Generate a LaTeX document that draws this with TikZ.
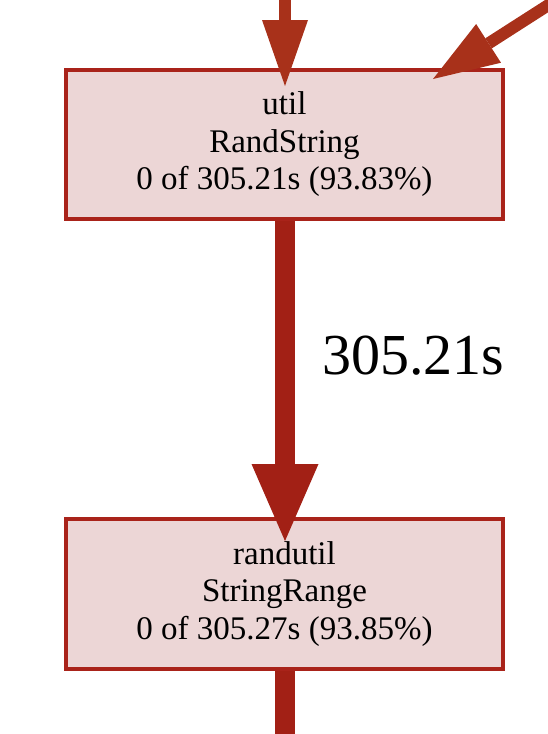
\documentclass[tikz,border=0pt]{standalone}
\usepackage{fontspec}
\setmainfont{Liberation Serif}
\usetikzlibrary{arrows.meta,calc}
\definecolor{boxfill}{HTML}{ECD6D6}
\definecolor{boxline}{HTML}{A9231A}
\definecolor{edgeA}{HTML}{A8311A}
\definecolor{edgeB}{HTML}{A22015}
\begin{document}
\begin{tikzpicture}[x=1pt,y=-1pt,
  fnbox/.style={draw=boxline,fill=boxfill,line width=4pt,rectangle,
    minimum width=437pt,minimum height=149pt,inner sep=0pt,align=center,
    font=\fontsize{33}{37.5}\selectfont},
  thinedge/.style={draw=edgeA,line width=12pt,
    -{Triangle[length=66pt,width=46pt,line width=0pt]}},
  thickedge/.style={draw=edgeB,line width=20pt},
  thickhead/.style={-{Triangle[length=77pt,width=67pt,line width=0pt]}},
  edgelabel/.style={font=\fontsize{58}{60}\selectfont,inner sep=0pt,anchor=base west}]
\useasboundingbox (0,0) rectangle (548,734);
\node[fnbox] (rs) at (284.5,144.5) {util\\RandString\\0 of 305.21s (93.83\%)};
\node[fnbox,minimum height=150pt] (sr) at (284.5,594) {randutil\\StringRange\\0 of 305.27s (93.85\%)};
\coordinate (topin) at (285,-10);
\coordinate (diagin) at (575,-12);
\coordinate (diagtip) at (433,79);
\coordinate (botout) at (285,745);
\draw[thinedge,shorten >=-18pt] (topin) -- (rs.north -| topin);
\draw[thinedge] (diagin) .. controls (525,20) .. (diagtip);
\draw[thickedge,thickhead,shorten >=-24pt] (rs.south -| topin) -- (sr.north -| topin);
\draw[thickedge] (sr.south -| topin) -- (botout);
\node[edgelabel] (lbl) at (322,374) {305.21s};
\end{tikzpicture}
\end{document}
